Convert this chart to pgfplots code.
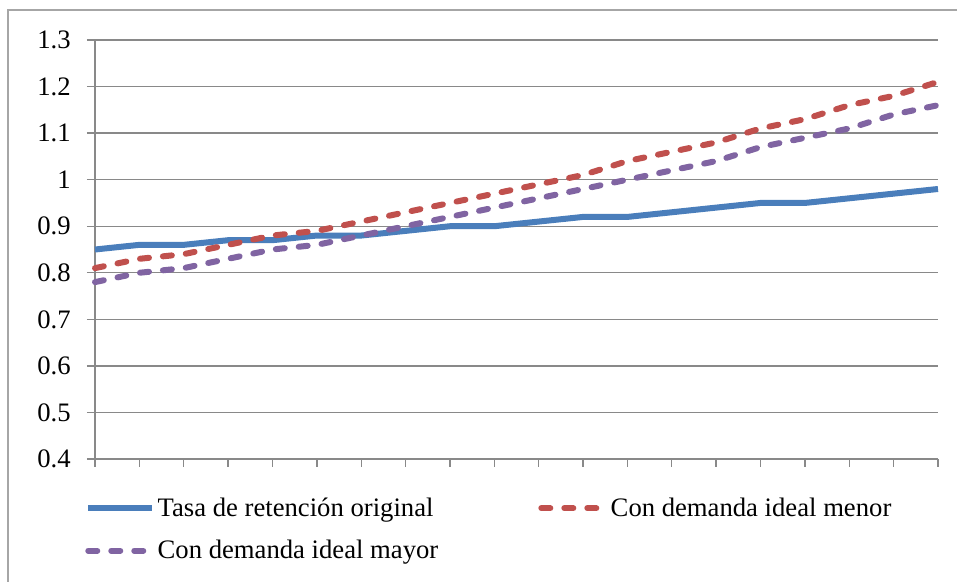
\documentclass[border=0pt]{standalone}
\usepackage{pgfplots}
\pgfplotsset{compat=1.18}
\usepackage{fontspec}
\setmainfont{Liberation Serif}
\definecolor{sblue}{HTML}{4A7EBB}
\definecolor{sred}{HTML}{C0504D}
\definecolor{spurple}{HTML}{8064A2}
\definecolor{gridgray}{HTML}{898989}
\definecolor{bordergray}{HTML}{A6A6A6}
\begin{document}
\begin{tikzpicture}
\useasboundingbox (0,0) rectangle (717.75pt,436.5pt);
\draw[bordergray, line width=1pt] (6pt,-1pt) -- (6pt,429pt) -- (720pt,429pt);
\begin{axis}[
  at={(71.25pt,92.25pt)}, anchor=south west,
  scale only axis, width=632.25pt, height=314.25pt,
  xmin=0, xmax=19, ymin=0.4, ymax=1.3,
  xtick={0,...,19}, xticklabels={},
  ytick={0.4,0.5,...,1.3},
  yticklabels={0.4,0.5,0.6,0.7,0.8,0.9,1,1.1,1.2,1.3},
  ymajorgrids,
  grid style={gridgray, line width=1pt},
  axis x line*=bottom, axis y line*=left,
  axis line style={gridgray, line width=1pt},
  tick style={gridgray, line width=1pt},
  tick align=outside, major tick length=6pt,
  font=\fontsize{20pt}{24pt}\selectfont,
  yticklabel style={font=\fontsize{20pt}{24pt}\selectfont, anchor=east, inner sep=0pt, xshift=-12pt},
  /pgf/number format/assume math mode=true,
  clip=false,
  legend columns=2,
  legend cell align=left,
  legend style={at={(0,0)}, anchor=north west, xshift=-7.5pt, yshift=-27pt,
    draw=none, fill=none, inner sep=0pt,
    font=\fontsize{20pt}{24pt}\selectfont,
    nodes={inner sep=2pt},
    row sep=12.5pt,
    /tikz/column 2/.style={column sep=73pt}},
  legend image code/.code={\draw[#1] (2.2pt,0pt) -- (50pt,0pt);},
]
\addplot[sblue, line width=4.5pt, line join=round] coordinates {
(0,0.85)(1,0.86)(2,0.86)(3,0.87)(4,0.87)(5,0.88)(6,0.88)(7,0.89)(8,0.90)(9,0.90)
(10,0.91)(11,0.92)(12,0.92)(13,0.93)(14,0.94)(15,0.95)(16,0.95)(17,0.96)(18,0.97)(19,0.98)};
\addlegendentry{Tasa de retención original}
\addplot[sred, line width=4.5pt, line cap=round, dash pattern=on 6.75pt off 10.5pt] coordinates {
(0,0.81)(1,0.83)(2,0.84)(3,0.86)(4,0.88)(5,0.89)(6,0.91)(7,0.93)(8,0.95)(9,0.97)
(10,0.99)(11,1.01)(12,1.04)(13,1.06)(14,1.08)(15,1.11)(16,1.13)(17,1.16)(18,1.18)(19,1.21)};
\addlegendentry{Con demanda ideal menor}
\addplot[spurple, line width=4.5pt, line cap=round, dash pattern=on 6.75pt off 10.5pt] coordinates {
(0,0.78)(1,0.80)(2,0.81)(3,0.83)(4,0.85)(5,0.86)(6,0.88)(7,0.90)(8,0.92)(9,0.94)
(10,0.96)(11,0.98)(12,1.00)(13,1.02)(14,1.04)(15,1.07)(16,1.09)(17,1.11)(18,1.14)(19,1.16)};
\addlegendentry{Con demanda ideal mayor}
\end{axis}
\end{tikzpicture}
\end{document}
